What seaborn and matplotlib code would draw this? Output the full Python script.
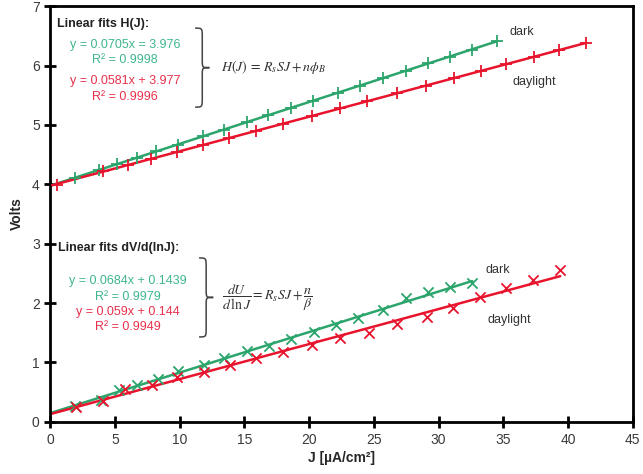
import numpy as np
import pandas as pd
import seaborn as sns
import matplotlib.pyplot as plt
from matplotlib.path import Path
from matplotlib.patches import PathPatch

# H(J) data
j_h_dark = [1.9, 3.8, 5.2, 6.7, 8.2, 9.9, 11.8, 13.4, 15.2, 16.8, 18.6, 20.3, 22.2, 23.9, 25.7, 27.5, 29.2, 30.9, 32.6, 34.5]
h_dark = [4.11, 4.24, 4.34, 4.45, 4.56, 4.67, 4.81, 4.92, 5.05, 5.16, 5.29, 5.41, 5.54, 5.66, 5.79, 5.91, 6.04, 6.15, 6.27, 6.41]
j_h_day = [0.5, 4.1, 6.0, 7.8, 9.8, 11.8, 13.8, 15.9, 18.0, 20.2, 22.4, 24.5, 26.8, 29.0, 31.2, 33.3, 35.2, 37.4, 39.3, 41.4]
h_day = [3.99, 4.22, 4.33, 4.43, 4.55, 4.66, 4.78, 4.90, 5.02, 5.15, 5.28, 5.40, 5.53, 5.66, 5.79, 5.91, 6.02, 6.15, 6.26, 6.38]

# dV/d(lnJ) data
j_d_dark = [1.9, 3.9, 5.3, 6.7, 8.3, 9.9, 11.9, 13.4, 15.2, 16.9, 18.6, 20.4, 22.1, 23.8, 25.7, 27.5, 29.2, 30.9, 32.6]
d_dark = [0.27, 0.37, 0.54, 0.62, 0.72, 0.85, 0.96, 1.07, 1.20, 1.28, 1.39, 1.52, 1.63, 1.75, 1.88, 2.08, 2.19, 2.27, 2.33]
j_d_day = [2.0, 4.1, 5.8, 7.9, 9.8, 11.9, 13.9, 15.9, 18.0, 20.2, 22.4, 24.6, 26.8, 29.1, 31.1, 33.2, 35.2, 37.3, 39.4]
d_day = [0.25, 0.35, 0.55, 0.62, 0.75, 0.84, 0.96, 1.07, 1.18, 1.29, 1.41, 1.50, 1.64, 1.77, 1.91, 2.11, 2.25, 2.39, 2.55]

GREEN = '#2ca56c'
RED = '#e8142d'
GREEN_TXT = '#3fb68c'
RED_TXT = '#e6304c'

sns.set_theme(style="white")
plt.rcParams['font.family'] = ['Liberation Sans', 'DejaVu Sans']
plt.rcParams['mathtext.fontset'] = 'stix'

fig = plt.figure(figsize=(6.43, 4.74), dpi=100)
ax = fig.add_axes([0.078, 0.11, 0.906, 0.877])

series = [
    (j_h_dark, h_dark, GREEN, '+', 6.5),
    (j_h_day, h_day, RED, '+', 6.5),
    (j_d_dark, d_dark, GREEN, 'x', 6),
    (j_d_day, d_day, RED, 'x', 6),
]
for xs, ys, col, mk, ms in series:
    k, b = np.polyfit(xs, ys, 1)
    fit = pd.DataFrame({'J': [0, max(xs)], 'V': [b, k * max(xs) + b]})
    sns.lineplot(data=fit, x='J', y='V', color=col, lw=1.8, ax=ax)
    df = pd.DataFrame({'J': xs, 'V': ys})
    sns.scatterplot(data=df, x='J', y='V', marker=mk, color=col, s=ms ** 2 * 1.5,
                    linewidth=1.3, ax=ax, zorder=3)

ax.set_xlim(0, 45)
ax.set_ylim(0, 7)
ax.set_xticks(range(0, 46, 5))
ax.set_yticks(range(0, 8))
for s in ax.spines.values():
    s.set_linewidth(2)
    s.set_color('black')
ax.tick_params(axis='both', direction='inout', length=8, width=2, color='black',
               labelsize=10, labelcolor='#3a3a3a', bottom=True, left=True)
ax.tick_params(axis='x', pad=4)
ax.set_xlabel('J [µA/cm²]', fontsize=10, fontweight='bold', labelpad=3)
ax.set_ylabel('Volts', fontsize=10, fontweight='bold', labelpad=6)


def brace(x0, x1, yt, yb):
    xc = (x0 + x1) / 2
    ym = (yt + yb) / 2
    h = yt - yb
    verts = [(x0, yt), (xc, yt), (xc, yt), (xc, yt - h * 0.12),
             (xc, ym + h * 0.1), (xc, ym), (xc, ym), (x1, ym),
             (xc, ym), (xc, ym), (xc, ym - h * 0.1),
             (xc, yb + h * 0.12), (xc, yb), (xc, yb), (x0, yb)]
    codes = [Path.MOVETO, Path.CURVE4, Path.CURVE4, Path.CURVE4,
             Path.LINETO, Path.CURVE4, Path.CURVE4, Path.CURVE4,
             Path.CURVE4, Path.CURVE4, Path.CURVE4,
             Path.LINETO, Path.CURVE4, Path.CURVE4, Path.CURVE4]
    ax.add_patch(PathPatch(Path(verts, codes), fill=False, lw=1.1, color='#444444'))


# H(J) annotations
ax.text(0.5, 6.70, 'Linear fits H(J):', fontsize=9, fontweight='bold', va='center', color='#222222')
ax.text(5.8, 6.35, 'y = 0.0705x = 3.976', fontsize=9, ha='center', va='center', color=GREEN_TXT)
ax.text(5.8, 6.09, 'R² = 0.9998', fontsize=9, ha='center', va='center', color=GREEN_TXT)
ax.text(5.8, 5.74, 'y = 0.0581x + 3.977', fontsize=9, ha='center', va='center', color=RED_TXT)
ax.text(5.8, 5.47, 'R² = 0.9996', fontsize=9, ha='center', va='center', color=RED_TXT)
brace(11.2, 12.3, 6.63, 5.30)
ax.text(13.2, 5.97, r'$H(J)\, =\, R_sSJ + n\phi_B$', fontsize=10, va='center', color='#333333')
ax.text(35.5, 6.57, 'dark', fontsize=9, va='center', color='#333333')
ax.text(35.7, 5.72, 'daylight', fontsize=9, va='center', color='#333333')

# dV/d(lnJ) annotations
ax.text(0.6, 2.93, 'Linear fits dV/d(lnJ):', fontsize=9, fontweight='bold', va='center', color='#222222')
ax.text(6.0, 2.37, 'y = 0.0684x + 0.1439', fontsize=9, ha='center', va='center', color=GREEN_TXT)
ax.text(6.0, 2.11, 'R² = 0.9979', fontsize=9, ha='center', va='center', color=GREEN_TXT)
ax.text(6.0, 1.85, 'y = 0.059x + 0.144', fontsize=9, ha='center', va='center', color=RED_TXT)
ax.text(6.0, 1.59, 'R² = 0.9949', fontsize=9, ha='center', va='center', color=RED_TXT)
brace(11.5, 12.6, 2.76, 1.43)
ax.text(13.3, 2.09, r'$\dfrac{dU}{d\,\ln J} = R_sSJ + \dfrac{n}{\beta}$', fontsize=10, va='center', color='#333333')
ax.text(33.6, 2.56, 'dark', fontsize=9, va='center', color='#333333')
ax.text(33.8, 1.72, 'daylight', fontsize=9, va='center', color='#333333')

fig.savefig('out.png', dpi=100)
